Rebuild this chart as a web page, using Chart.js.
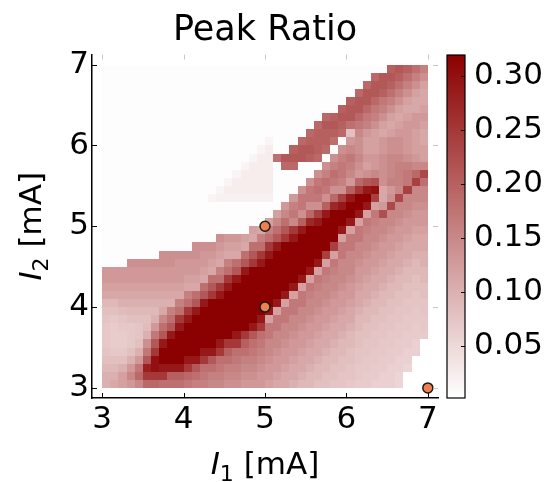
<!DOCTYPE html>
<html>
<head>
<meta charset="utf-8">
<script src="https://cdn.jsdelivr.net/npm/chart.js@4.4.1/dist/chart.umd.min.js"></script>
<style>
  html, body { margin: 0; padding: 0; background: #fff; }
  canvas { display: block; }
</style>
</head>
<body>
<canvas id="heat" width="555" height="482"></canvas>
<script>
// cell centres, mA
const i1Centers = [3.05, 3.15, 3.25, 3.35, 3.45, 3.55, 3.65, 3.75, 3.85, 3.95,
                   4.05, 4.15, 4.25, 4.35, 4.45, 4.55, 4.65, 4.75, 4.85, 4.95,
                   5.05, 5.15, 5.25, 5.35, 5.45, 5.55, 5.65, 5.75, 5.85, 5.95,
                   6.05, 6.15, 6.25, 6.35, 6.45, 6.55, 6.65, 6.75, 6.85, 6.95];
const i2Centers = [3.05, 3.15, 3.25, 3.35, 3.45, 3.55, 3.65, 3.75, 3.85, 3.95,
                   4.05, 4.15, 4.25, 4.35, 4.45, 4.55, 4.65, 4.75, 4.85, 4.95,
                   5.05, 5.15, 5.25, 5.35, 5.45, 5.55, 5.65, 5.75, 5.85, 5.95,
                   6.05, 6.15, 6.25, 6.35, 6.45, 6.55, 6.65, 6.75, 6.85, 6.95];

// peak ratio: one array per I1 column, I2 from 3.05 upwards (null = no value)
const peakRatio = [
  // 3.05
  [0.10, 0.10, 0.09, 0.08, 0.075, 0.07, 0.07, 0.07, 0.075, 0.08,
   0.09, 0.11, 0.12, 0.13, 0.13, 0.005, 0.005, 0.005, 0.005, 0.005,
   0.005, 0.005, 0.005, 0.005, 0.005, 0.005, 0.005, 0.005, 0.005, 0.005,
   0.005, 0.005, 0.005, 0.005, 0.005, 0.005, 0.005, 0.005, 0.005, 0.005],
  // 3.15
  [0.11, 0.10, 0.09, 0.08, 0.07, 0.065, 0.065, 0.065, 0.07, 0.08,
   0.09, 0.11, 0.12, 0.13, 0.13, 0.005, 0.005, 0.005, 0.005, 0.005,
   0.005, 0.005, 0.005, 0.005, 0.005, 0.005, 0.005, 0.005, 0.005, 0.005,
   0.005, 0.005, 0.005, 0.005, 0.005, 0.005, 0.005, 0.005, 0.005, 0.005],
  // 3.25
  [0.12, 0.12, 0.10, 0.08, 0.07, 0.065, 0.065, 0.07, 0.075, 0.085,
   0.10, 0.11, 0.12, 0.13, 0.13, 0.005, 0.005, 0.005, 0.005, 0.005,
   0.005, 0.005, 0.005, 0.005, 0.005, 0.005, 0.005, 0.005, 0.005, 0.005,
   0.005, 0.005, 0.005, 0.005, 0.005, 0.005, 0.005, 0.005, 0.005, 0.005],
  // 3.35
  [0.13, 0.15, 0.13, 0.10, 0.08, 0.07, 0.07, 0.07, 0.08, 0.09,
   0.10, 0.11, 0.12, 0.13, 0.13, 0.14, 0.005, 0.005, 0.005, 0.005,
   0.005, 0.005, 0.005, 0.005, 0.005, 0.005, 0.005, 0.005, 0.005, 0.005,
   0.005, 0.005, 0.005, 0.005, 0.005, 0.005, 0.005, 0.005, 0.005, 0.005],
  // 3.45
  [0.15, 0.19, 0.17, 0.13, 0.10, 0.08, 0.075, 0.075, 0.08, 0.09,
   0.10, 0.11, 0.12, 0.13, 0.13, 0.14, 0.005, 0.005, 0.005, 0.005,
   0.005, 0.005, 0.005, 0.005, 0.005, 0.005, 0.005, 0.005, 0.005, 0.005,
   0.005, 0.005, 0.005, 0.005, 0.005, 0.005, 0.005, 0.005, 0.005, 0.005],
  // 3.55
  [0.19, 0.25, 0.28, 0.21, 0.17, 0.14, 0.10, 0.085, 0.08, 0.09,
   0.10, 0.11, 0.12, 0.13, 0.13, 0.14, 0.005, 0.005, 0.005, 0.005,
   0.005, 0.005, 0.005, 0.005, 0.005, 0.005, 0.005, 0.005, 0.005, 0.005,
   0.005, 0.005, 0.005, 0.005, 0.005, 0.005, 0.005, 0.005, 0.005, 0.005],
  // 3.65
  [0.19, 0.25, 0.30, 0.30, 0.25, 0.21, 0.17, 0.13, 0.10, 0.09,
   0.10, 0.11, 0.12, 0.13, 0.13, 0.14, 0.005, 0.005, 0.005, 0.005,
   0.005, 0.005, 0.005, 0.005, 0.005, 0.005, 0.005, 0.005, 0.005, 0.005,
   0.005, 0.005, 0.005, 0.005, 0.005, 0.005, 0.005, 0.005, 0.005, 0.005],
  // 3.75
  [0.18, 0.25, 0.29, 0.32, 0.32, 0.29, 0.21, 0.18, 0.15, 0.11,
   0.10, 0.11, 0.12, 0.13, 0.13, 0.14, 0.14, 0.005, 0.005, 0.005,
   0.005, 0.005, 0.005, 0.005, 0.005, 0.005, 0.005, 0.005, 0.005, 0.005,
   0.005, 0.005, 0.005, 0.005, 0.005, 0.005, 0.005, 0.005, 0.005, 0.005],
  // 3.85
  [0.18, 0.20, 0.29, 0.32, 0.32, 0.32, 0.29, 0.21, 0.18, 0.16,
   0.10, 0.11, 0.12, 0.13, 0.13, 0.14, 0.14, 0.005, 0.005, 0.005,
   0.005, 0.005, 0.005, 0.005, 0.005, 0.005, 0.005, 0.005, 0.005, 0.005,
   0.005, 0.005, 0.005, 0.005, 0.005, 0.005, 0.005, 0.005, 0.005, 0.005],
  // 3.95
  [0.18, 0.20, 0.29, 0.32, 0.32, 0.32, 0.32, 0.29, 0.25, 0.18,
   0.16, 0.11, 0.12, 0.13, 0.13, 0.13, 0.14, 0.005, 0.005, 0.005,
   0.005, 0.005, 0.005, 0.005, 0.005, 0.005, 0.005, 0.005, 0.005, 0.005,
   0.005, 0.005, 0.005, 0.005, 0.005, 0.005, 0.005, 0.005, 0.005, 0.005],
  // 4.05
  [0.17, 0.19, 0.25, 0.29, 0.32, 0.32, 0.32, 0.32, 0.29, 0.25,
   0.18, 0.16, 0.11, 0.12, 0.13, 0.13, 0.14, 0.005, 0.005, 0.005,
   0.005, 0.005, 0.005, 0.005, 0.005, 0.005, 0.005, 0.005, 0.005, 0.005,
   0.005, 0.005, 0.005, 0.005, 0.005, 0.005, 0.005, 0.005, 0.005, 0.005],
  // 4.15
  [0.16, 0.18, 0.21, 0.29, 0.32, 0.32, 0.32, 0.32, 0.32, 0.29,
   0.21, 0.18, 0.11, 0.12, 0.13, 0.13, 0.14, 0.14, 0.005, 0.005,
   0.005, 0.005, 0.005, 0.005, 0.005, 0.005, 0.005, 0.005, 0.005, 0.005,
   0.005, 0.005, 0.005, 0.005, 0.005, 0.005, 0.005, 0.005, 0.005, 0.005],
  // 4.25
  [0.16, 0.17, 0.18, 0.25, 0.29, 0.32, 0.32, 0.32, 0.32, 0.32,
   0.29, 0.21, 0.18, 0.11, 0.12, 0.13, 0.13, 0.14, 0.005, 0.005,
   0.005, 0.005, 0.005, 0.005, 0.005, 0.005, 0.005, 0.005, 0.005, 0.005,
   0.005, 0.005, 0.005, 0.005, 0.005, 0.005, 0.005, 0.005, 0.005, 0.005],
  // 4.35
  [0.15, 0.16, 0.18, 0.21, 0.29, 0.32, 0.32, 0.32, 0.32, 0.32,
   0.32, 0.25, 0.21, 0.18, 0.11, 0.12, 0.13, 0.14, 0.005, 0.005,
   0.005, 0.005, 0.005, 0.015, 0.005, 0.005, 0.005, 0.005, 0.005, 0.005,
   0.005, 0.005, 0.005, 0.005, 0.005, 0.005, 0.005, 0.005, 0.005, 0.005],
  // 4.45
  [0.15, 0.16, 0.17, 0.18, 0.25, 0.29, 0.32, 0.32, 0.32, 0.32,
   0.32, 0.29, 0.25, 0.18, 0.16, 0.11, 0.12, 0.13, 0.14, 0.005,
   0.005, 0.005, 0.005, 0.02, 0.015, 0.005, 0.005, 0.005, 0.005, 0.005,
   0.005, 0.005, 0.005, 0.005, 0.005, 0.005, 0.005, 0.005, 0.005, 0.005],
  // 4.55
  [0.14, 0.15, 0.16, 0.18, 0.20, 0.25, 0.32, 0.32, 0.32, 0.32,
   0.32, 0.32, 0.29, 0.25, 0.18, 0.16, 0.11, 0.12, 0.13, 0.005,
   0.005, 0.005, 0.005, 0.02, 0.025, 0.015, 0.005, 0.005, 0.005, 0.005,
   0.005, 0.005, 0.005, 0.005, 0.005, 0.005, 0.005, 0.005, 0.005, 0.005],
  // 4.65
  [0.14, 0.15, 0.16, 0.17, 0.18, 0.25, 0.29, 0.32, 0.32, 0.32,
   0.32, 0.32, 0.32, 0.29, 0.21, 0.18, 0.11, 0.12, 0.13, 0.005,
   0.005, 0.005, 0.005, 0.02, 0.025, 0.025, 0.015, 0.005, 0.005, 0.005,
   0.005, 0.005, 0.005, 0.005, 0.005, 0.005, 0.005, 0.005, 0.005, 0.005],
  // 4.75
  [0.13, 0.14, 0.15, 0.16, 0.18, 0.20, 0.25, 0.32, 0.32, 0.32,
   0.32, 0.32, 0.32, 0.32, 0.29, 0.21, 0.18, 0.11, 0.12, 0.005,
   0.005, 0.005, 0.005, 0.02, 0.025, 0.025, 0.025, 0.015, 0.005, 0.005,
   0.005, 0.005, 0.005, 0.005, 0.005, 0.005, 0.005, 0.005, 0.005, 0.005],
  // 4.85
  [0.13, 0.14, 0.15, 0.16, 0.17, 0.18, 0.21, 0.29, 0.32, 0.32,
   0.32, 0.32, 0.32, 0.32, 0.32, 0.25, 0.21, 0.18, 0.11, 0.12,
   0.005, 0.005, 0.005, 0.02, 0.025, 0.025, 0.025, 0.025, 0.015, 0.005,
   0.005, 0.005, 0.005, 0.005, 0.005, 0.005, 0.005, 0.005, 0.005, 0.005],
  // 4.95
  [0.13, 0.13, 0.14, 0.15, 0.16, 0.17, 0.18, 0.25, 0.29, 0.32,
   0.32, 0.32, 0.32, 0.32, 0.32, 0.29, 0.25, 0.18, 0.16, 0.11,
   0.005, 0.005, 0.005, 0.02, 0.025, 0.025, 0.025, 0.025, 0.025, 0.015,
   0.005, 0.005, 0.005, 0.005, 0.005, 0.005, 0.005, 0.005, 0.005, 0.005],
  // 5.05
  [0.12, 0.13, 0.13, 0.14, 0.15, 0.15, 0.17, 0.17, 0.12, 0.29,
   0.32, 0.32, 0.32, 0.32, 0.32, 0.32, 0.29, 0.25, 0.18, 0.16,
   0.12, 0.005, 0.005, 0.02, 0.025, 0.025, 0.025, 0.025, 0.025, 0.025,
   0.015, 0.005, 0.005, 0.005, 0.005, 0.005, 0.005, 0.005, 0.005, 0.005],
  // 5.15
  [0.11, 0.12, 0.13, 0.13, 0.14, 0.15, 0.15, 0.17, 0.17, 0.12,
   0.29, 0.32, 0.32, 0.32, 0.32, 0.32, 0.32, 0.29, 0.21, 0.18,
   0.15, 0.12, 0.005, 0.005, 0.005, 0.005, 0.005, 0.005, 0.18, 0.005,
   0.005, 0.005, 0.005, 0.005, 0.005, 0.005, 0.005, 0.005, 0.005, 0.005],
  // 5.25
  [0.11, 0.11, 0.12, 0.13, 0.13, 0.14, 0.15, 0.15, 0.17, 0.17,
   0.12, 0.29, 0.32, 0.32, 0.32, 0.32, 0.32, 0.32, 0.25, 0.21,
   0.18, 0.15, 0.13, 0.005, 0.005, 0.005, 0.005, 0.19, 0.21, 0.005,
   0.005, 0.005, 0.005, 0.005, 0.005, 0.005, 0.005, 0.005, 0.005, 0.005],
  // 5.35
  [0.10, 0.11, 0.11, 0.12, 0.13, 0.13, 0.14, 0.15, 0.15, 0.17,
   0.17, 0.12, 0.29, 0.32, 0.32, 0.32, 0.32, 0.32, 0.29, 0.25,
   0.15, 0.17, 0.16, 0.13, 0.005, 0.005, 0.005, 0.19, 0.21, 0.20,
   0.005, 0.005, 0.005, 0.005, 0.005, 0.005, 0.005, 0.005, 0.005, 0.005],
  // 5.45
  [0.09, 0.10, 0.11, 0.11, 0.12, 0.13, 0.13, 0.14, 0.15, 0.15,
   0.17, 0.17, 0.12, 0.29, 0.32, 0.32, 0.32, 0.32, 0.32, 0.29,
   0.20, 0.14, 0.17, 0.17, 0.14, 0.005, 0.005, 0.005, 0.21, 0.21,
   0.19, 0.005, 0.005, 0.005, 0.005, 0.005, 0.005, 0.005, 0.005, 0.005],
  // 5.55
  [0.09, 0.09, 0.10, 0.11, 0.11, 0.12, 0.13, 0.13, 0.14, 0.15,
   0.15, 0.16, 0.17, 0.12, 0.29, 0.32, 0.32, 0.32, 0.32, 0.32,
   0.27, 0.19, 0.14, 0.17, 0.17, 0.14, 0.005, 0.005, 0.20, 0.21,
   0.20, 0.19, 0.005, 0.005, 0.005, 0.005, 0.005, 0.005, 0.005, 0.005],
  // 5.65
  [0.08, 0.09, 0.09, 0.10, 0.11, 0.11, 0.12, 0.13, 0.13, 0.14,
   0.15, 0.15, 0.16, 0.17, 0.12, 0.29, 0.32, 0.32, 0.32, 0.32,
   0.29, 0.24, 0.14, 0.17, 0.18, 0.17, 0.14, 0.005, 0.19, 0.20,
   0.20, 0.20, 0.19, 0.005, 0.005, 0.005, 0.005, 0.005, 0.005, 0.005],
  // 5.75
  [0.08, 0.08, 0.09, 0.09, 0.10, 0.11, 0.11, 0.12, 0.13, 0.13,
   0.14, 0.15, 0.15, 0.16, 0.17, 0.12, 0.24, 0.32, 0.32, 0.32,
   0.32, 0.29, 0.20, 0.14, 0.17, 0.18, 0.16, 0.14, 0.005, 0.19,
   0.20, 0.20, 0.21, 0.19, 0.005, 0.005, 0.005, 0.005, 0.005, 0.005],
  // 5.85
  [0.075, 0.08, 0.08, 0.09, 0.09, 0.10, 0.11, 0.11, 0.12, 0.13,
   0.13, 0.14, 0.15, 0.15, 0.16, 0.17, 0.12, 0.24, 0.32, 0.32,
   0.32, 0.32, 0.27, 0.19, 0.14, 0.17, 0.18, 0.16, 0.14, 0.005,
   0.18, 0.20, 0.21, 0.20, 0.005, 0.005, 0.005, 0.005, 0.005, 0.005],
  // 5.95
  [0.075, 0.075, 0.08, 0.08, 0.09, 0.09, 0.10, 0.11, 0.11, 0.12,
   0.13, 0.13, 0.14, 0.15, 0.15, 0.15, 0.17, 0.17, 0.12, 0.29,
   0.32, 0.32, 0.29, 0.24, 0.14, 0.16, 0.17, 0.17, 0.16, 0.14,
   0.005, 0.19, 0.20, 0.21, 0.20, 0.005, 0.005, 0.005, 0.005, 0.005],
  // 6.05
  [0.07, 0.075, 0.075, 0.08, 0.08, 0.09, 0.09, 0.10, 0.11, 0.11,
   0.12, 0.13, 0.13, 0.14, 0.15, 0.15, 0.15, 0.17, 0.17, 0.12,
   0.29, 0.32, 0.32, 0.29, 0.20, 0.13, 0.15, 0.16, 0.17, 0.15,
   0.13, 0.08, 0.18, 0.21, 0.21, 0.20, 0.005, 0.005, 0.005, 0.005],
  // 6.15
  [0.065, 0.07, 0.07, 0.075, 0.075, 0.08, 0.08, 0.09, 0.09, 0.10,
   0.11, 0.11, 0.12, 0.13, 0.13, 0.14, 0.15, 0.15, 0.17, 0.17,
   0.12, 0.29, 0.32, 0.32, 0.25, 0.19, 0.13, 0.14, 0.15, 0.14,
   0.14, 0.15, 0.17, 0.19, 0.21, 0.21, 0.19, 0.005, 0.005, 0.005],
  // 6.25
  [0.065, 0.065, 0.07, 0.07, 0.075, 0.075, 0.08, 0.08, 0.09, 0.09,
   0.10, 0.11, 0.11, 0.12, 0.13, 0.13, 0.14, 0.15, 0.15, 0.16,
   0.17, 0.12, 0.29, 0.32, 0.29, 0.21, 0.14, 0.12, 0.13, 0.12,
   0.12, 0.13, 0.16, 0.17, 0.19, 0.21, 0.21, 0.19, 0.005, 0.005],
  // 6.35
  [0.06, 0.065, 0.065, 0.07, 0.07, 0.075, 0.075, 0.08, 0.08, 0.09,
   0.09, 0.10, 0.11, 0.11, 0.12, 0.13, 0.13, 0.14, 0.15, 0.15,
   0.16, 0.17, 0.12, 0.24, 0.30, 0.22, 0.15, 0.13, 0.13, 0.12,
   0.12, 0.12, 0.14, 0.16, 0.17, 0.19, 0.21, 0.21, 0.19, 0.005],
  // 6.45
  [0.06, 0.06, 0.065, 0.065, 0.07, 0.07, 0.075, 0.075, 0.08, 0.08,
   0.09, 0.09, 0.10, 0.11, 0.11, 0.12, 0.13, 0.13, 0.14, 0.15,
   0.15, 0.22, 0.13, 0.11, 0.11, 0.14, 0.14, 0.14, 0.14, 0.13,
   0.13, 0.11, 0.12, 0.14, 0.16, 0.17, 0.20, 0.21, 0.21, 0.005],
  // 6.55
  [0.06, 0.06, 0.06, 0.065, 0.065, 0.07, 0.07, 0.075, 0.075, 0.08,
   0.08, 0.09, 0.09, 0.10, 0.11, 0.11, 0.12, 0.13, 0.13, 0.14,
   0.15, 0.15, 0.23, 0.14, 0.13, 0.16, 0.15, 0.15, 0.15, 0.14,
   0.14, 0.12, 0.11, 0.12, 0.14, 0.16, 0.18, 0.20, 0.21, 0.20],
  // 6.65
  [0.055, 0.055, 0.06, 0.06, 0.065, 0.065, 0.07, 0.07, 0.075, 0.075,
   0.08, 0.08, 0.09, 0.09, 0.10, 0.11, 0.11, 0.12, 0.13, 0.13,
   0.14, 0.15, 0.15, 0.23, 0.15, 0.16, 0.16, 0.16, 0.15, 0.14,
   0.14, 0.13, 0.12, 0.11, 0.12, 0.14, 0.16, 0.18, 0.20, 0.21],
  // 6.75
  [null, null, 0.055, 0.06, 0.06, 0.065, 0.065, 0.07, 0.07, 0.075,
   0.075, 0.08, 0.08, 0.09, 0.09, 0.10, 0.11, 0.11, 0.12, 0.13,
   0.13, 0.14, 0.15, 0.15, 0.24, 0.17, 0.17, 0.16, 0.14, 0.13,
   0.13, 0.13, 0.13, 0.12, 0.11, 0.12, 0.14, 0.16, 0.18, 0.20],
  // 6.85
  [null, null, null, null, 0.06, 0.06, 0.065, 0.065, 0.07, 0.07,
   0.075, 0.075, 0.08, 0.08, 0.09, 0.09, 0.10, 0.11, 0.11, 0.12,
   0.13, 0.13, 0.14, 0.15, 0.15, 0.24, 0.19, 0.15, 0.13, 0.12,
   0.12, 0.12, 0.13, 0.13, 0.11, 0.11, 0.12, 0.14, 0.16, 0.18],
  // 6.95
  [null, null, null, null, null, null, 0.065, 0.07, 0.07, 0.075,
   0.075, 0.08, 0.08, 0.09, 0.09, 0.10, 0.10, 0.11, 0.11, 0.12,
   0.13, 0.13, 0.14, 0.15, 0.15, 0.18, 0.23, 0.15, 0.12, 0.12,
   0.11, 0.11, 0.12, 0.13, 0.12, 0.11, 0.11, 0.12, 0.14, 0.16]
];

// marked operating points
const markerI1 = [5, 5, 7];
const markerI2 = [5, 4, 3];

const axisTicks = [3, 4, 5, 6, 7];
const colorbarTicks = [0.05, 0.10, 0.15, 0.20, 0.25, 0.30];

peakRatio.forEach((col, i) => {
  if (col.length !== i2Centers.length) throw new Error('column ' + i + ' has ' + col.length + ' values');
});

const vmin = 0.002, vmax = 0.32;
const cellSize = 0.1;
const font = '"DejaVu Sans", sans-serif';

function ratioColor(v) {
  let t = (v - vmin) / (vmax - vmin);
  t = Math.max(0, Math.min(1, t));
  const r = Math.round(255 - 116 * t);
  const g = Math.round(255 - 255 * t);
  return 'rgb(' + r + ',' + g + ',' + g + ')';
}

const heatmap = {
  id: 'heatmap',
  beforeDatasetsDraw(chart) {
    const { ctx, chartArea, scales: { x, y } } = chart;
    ctx.save();
    ctx.beginPath();
    ctx.rect(chartArea.left, chartArea.top, chartArea.width, chartArea.height);
    ctx.clip();
    peakRatio.forEach((col, i) => {
      const x0 = Math.round(x.getPixelForValue(i1Centers[i] - cellSize / 2));
      const x1 = Math.round(x.getPixelForValue(i1Centers[i] + cellSize / 2));
      col.forEach((v, k) => {
        if (v === null) return;
        const y0 = Math.round(y.getPixelForValue(i2Centers[k] + cellSize / 2));
        const y1 = Math.round(y.getPixelForValue(i2Centers[k] - cellSize / 2));
        ctx.fillStyle = ratioColor(v);
        ctx.fillRect(x0, y0, x1 - x0, y1 - y0);
      });
    });
    ctx.restore();
  }
};

const colorbar = {
  id: 'colorbar',
  afterDraw(chart) {
    const { ctx } = chart;
    const cb = chart.scales.cb;
    const left = cb.left + 9, w = 18;
    const top = Math.round(cb.getPixelForValue(vmax));
    const bottom = Math.round(cb.getPixelForValue(vmin));
    ctx.save();
    for (let py = top; py < bottom; py++) {
      ctx.fillStyle = ratioColor(cb.getValueForPixel(py + 0.5));
      ctx.fillRect(left, py, w, 1);
    }
    ctx.strokeStyle = '#000';
    ctx.lineWidth = 1.2;
    ctx.strokeRect(left, top, w, bottom - top);
    ctx.lineWidth = 1;
    colorbarTicks.forEach(v => {
      const py = Math.round(cb.getPixelForValue(v)) + 0.5;
      ctx.beginPath();
      ctx.moveTo(left + w, py);
      ctx.lineTo(left + w - 4, py);
      ctx.stroke();
    });
    ctx.restore();
  }
};

function drawCurrentLabel(ctx, cx, baseline, sub) {
  ctx.font = 'italic 31px ' + font;
  const wI = ctx.measureText('I').width;
  ctx.font = '22px ' + font;
  const wS = ctx.measureText(sub).width;
  ctx.font = '31px ' + font;
  const wR = ctx.measureText(' [mA]').width;
  let px = cx - (wI + wS + wR) / 2;
  ctx.textAlign = 'left';
  ctx.textBaseline = 'alphabetic';
  ctx.font = 'italic 31px ' + font;
  ctx.fillText('I', px, baseline);
  px += wI;
  ctx.font = '22px ' + font;
  ctx.fillText(sub, px, baseline + 7);
  px += wS;
  ctx.font = '31px ' + font;
  ctx.fillText(' [mA]', px, baseline);
}

const frame = {
  id: 'frame',
  afterDraw(chart) {
    const { ctx, chartArea: a, scales: { x, y } } = chart;
    ctx.save();
    ctx.lineWidth = 1;
    axisTicks.forEach(v => {
      const px = Math.round(x.getPixelForValue(v)) + 0.5;
      const py = Math.round(y.getPixelForValue(v)) + 0.5;
      ctx.strokeStyle = '#000';
      ctx.beginPath();
      ctx.moveTo(px, a.bottom); ctx.lineTo(px, a.bottom - 5);
      ctx.moveTo(a.left, py); ctx.lineTo(a.left + 5, py);
      ctx.stroke();
      ctx.strokeStyle = '#c8c8c8';
      ctx.beginPath();
      ctx.moveTo(px, a.top); ctx.lineTo(px, a.top + 5);
      ctx.moveTo(a.right, py); ctx.lineTo(a.right - 5, py);
      ctx.stroke();
    });

    ctx.fillStyle = '#000';
    ctx.font = '35px ' + font;
    ctx.textAlign = 'center';
    ctx.textBaseline = 'alphabetic';
    ctx.fillText('Peak Ratio', (a.left + a.right) / 2, 40);

    drawCurrentLabel(ctx, (a.left + a.right) / 2, 474, '1');
    ctx.translate(41, (a.top + a.bottom) / 2);
    ctx.rotate(-Math.PI / 2);
    drawCurrentLabel(ctx, 0, 0, '2');
    ctx.restore();
  }
};

const tickFont = { family: font, size: 31 };

new Chart(document.getElementById('heat'), {
  type: 'scatter',
  data: {
    datasets: [{
      data: markerI1.map((v, i) => ({ x: v, y: markerI2[i] })),
      xAxisID: 'x',
      yAxisID: 'y',
      pointRadius: 5,
      pointHoverRadius: 5,
      backgroundColor: '#ee8050',
      borderColor: '#1a1a1a',
      borderWidth: 1.5
    }]
  },
  options: {
    responsive: false,
    animation: false,
    devicePixelRatio: 1,
    layout: { padding: { top: 52, left: 0, right: 0, bottom: 0 } },
    plugins: {
      legend: { display: false },
      tooltip: { enabled: false },
      title: { display: false }
    },
    scales: {
      x: {
        type: 'linear',
        min: 2.875,
        max: 7.125,
        afterBuildTicks: s => { s.ticks = axisTicks.map(v => ({ value: v })); },
        afterFit: s => { s.height = 84; },
        grid: { display: false, drawTicks: false },
        border: { display: true, color: '#000', width: 1.5 },
        ticks: { font: tickFont, color: '#000', padding: 3, maxRotation: 0, autoSkip: false, callback: v => String(v) }
      },
      y: {
        type: 'linear',
        position: 'left',
        min: 2.875,
        max: 7.125,
        afterBuildTicks: s => { s.ticks = axisTicks.map(v => ({ value: v })); },
        afterFit: s => { s.width = 92; },
        grid: { display: false, drawTicks: false },
        border: { display: true, color: '#000', width: 1.5 },
        ticks: { font: tickFont, color: '#000', padding: 3, autoSkip: false, callback: v => String(v) }
      },
      cb: {
        type: 'linear',
        position: 'right',
        min: vmin,
        max: vmax,
        afterBuildTicks: s => { s.ticks = colorbarTicks.map(v => ({ value: v })); },
        afterFit: s => { s.width = 117; },
        grid: { display: false, drawTicks: false },
        border: { display: false },
        ticks: { font: tickFont, color: '#000', padding: 36, autoSkip: false, callback: v => v.toFixed(2) }
      }
    }
  },
  plugins: [heatmap, colorbar, frame]
});
</script>
</body>
</html>
